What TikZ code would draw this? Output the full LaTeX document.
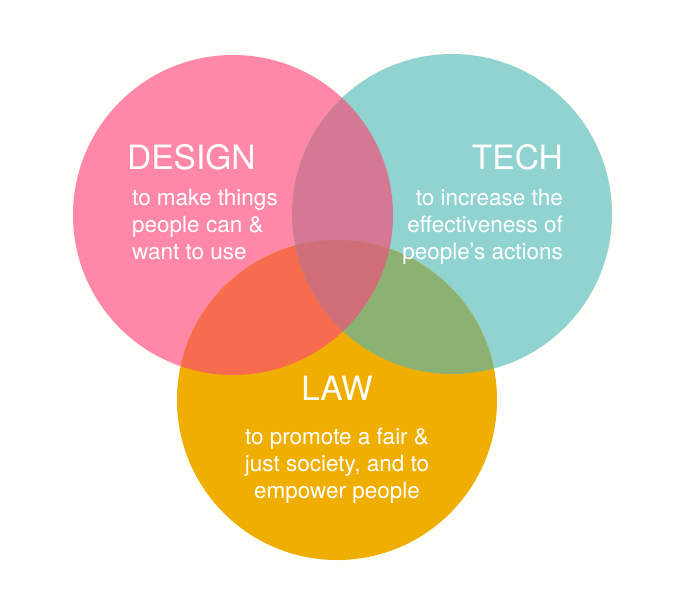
\documentclass[tikz,border=0pt]{standalone}
\usepackage{fontspec}
\setmainfont{TeX Gyre Heros}
\definecolor{bg}{HTML}{FEFEFA}
\definecolor{cpink}{HTML}{FF88A8}
\definecolor{cteal}{HTML}{91D3D0}
\definecolor{corange}{HTML}{F0AF00}
\definecolor{cpt}{HTML}{D57894}
\definecolor{cpo}{HTML}{F76C4E}
\definecolor{cto}{HTML}{8BB273}
\definecolor{cpto}{HTML}{D06F78}
\tikzset{
  titletext/.style={inner sep=0pt, text=white, font=\fontsize{33.5}{40}\selectfont},
  bodytext/.style={inner sep=0pt, text=white, font=\fontsize{22.5}{27}\selectfont},
}
\begin{document}
\begin{tikzpicture}[x=1pt,y=-1pt]
\useasboundingbox (0,0) rectangle (694,592);
\fill[bg] (0,0) rectangle (694,592);
\def\pinkc{(233,215) circle[radius=160]}
\def\tealc{(452,214) circle[radius=160]}
\def\orangec{(337,400) circle[radius=160]}
% base circles
\fill[cpink] \pinkc;
\fill[cteal] \tealc;
\fill[corange] \orangec;
% pairwise overlaps
\begin{scope}\clip \pinkc; \fill[cpt] \tealc; \end{scope}
\begin{scope}\clip \pinkc; \fill[cpo] \orangec; \end{scope}
\begin{scope}\clip \tealc; \fill[cto] \orangec; \end{scope}
% triple overlap
\begin{scope}\clip \pinkc; \clip \tealc; \fill[cpto] \orangec; \end{scope}
% DESIGN
\node[titletext, anchor=base west] (designT) at (127,169) {DESIGN};
\node[bodytext, anchor=base west] (design1) at (132,205) {to make things};
\node[bodytext, anchor=base west] (design2) at (132,232) {people can \&};
\node[bodytext, anchor=base west] (design3) at (132,259) {want to use};
% TECH
\node[titletext, anchor=base east] (techT) at (563,169) {TECH};
\node[bodytext, anchor=base east] (tech1) at (563,205) {to increase the};
\node[bodytext, anchor=base east] (tech2) at (563,232) {effectiveness of};
\node[bodytext, anchor=base east] (tech3) at (563,259) {people’s actions};
% LAW
\node[titletext, anchor=base] (lawT) at (337,400) {LAW};
\node[bodytext, anchor=base] (law1) at (337,444) {to promote a fair \&};
\node[bodytext, anchor=base] (law2) at (337,471) {just society, and to};
\node[bodytext, anchor=base] (law3) at (337,498) {empower people};
\end{tikzpicture}
\end{document}
